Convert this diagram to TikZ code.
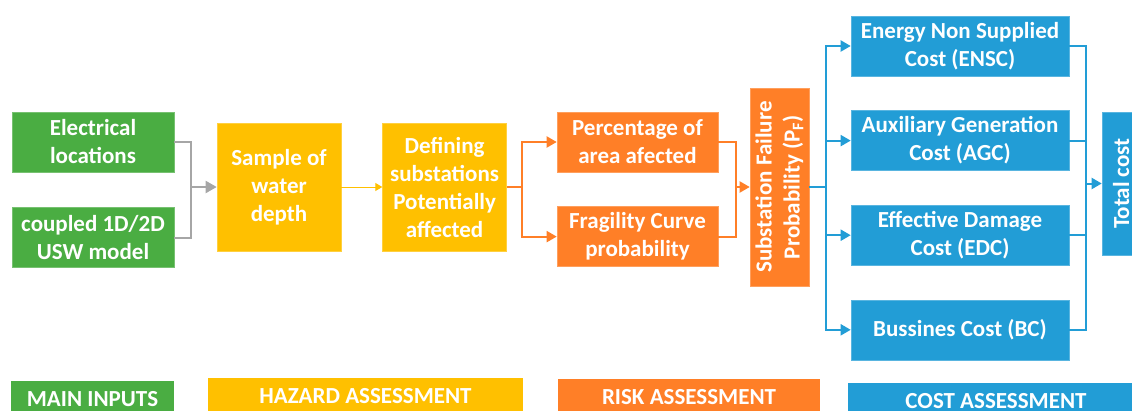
\documentclass[tikz,border=0pt]{standalone}
\usepackage{fontspec}
\setmainfont{Carlito}
\usepackage{tikz}
\usetikzlibrary{arrows.meta,shapes,positioning}

\definecolor{ingreen}{RGB}{74,173,66}
\definecolor{hzyellow}{RGB}{255,192,0}
\definecolor{rkorange}{RGB}{255,127,39}
\definecolor{csblue}{RGB}{34,157,214}
\definecolor{lngray}{RGB}{166,166,166}

\begin{document}
\begin{tikzpicture}[x=1pt, y=-1pt,
		basic/.style  = {rectangle, inner sep=0pt, align=center, text=white, line width=0.6pt, font=\fontsize{23}{28}\selectfont\bfseries},
		input/.style  = {basic, fill=ingreen, draw=ingreen!75!white, minimum width=162, minimum height=60},
		hazard/.style = {basic, fill=hzyellow, draw=hzyellow!75!white, minimum width=124, minimum height=128},
		risk/.style   = {basic, fill=rkorange, draw=rkorange!75!white, minimum width=161, minimum height=60},
		cost/.style   = {basic, fill=csblue, draw=csblue!75!white, minimum width=218, minimum height=60},
		legend/.style = {basic, anchor=north, minimum height=36},
		link/.style   = {line width=2pt},
		>={Triangle[length=10pt,width=11pt]}]
		
		\useasboundingbox (0,0) rectangle (1132,410);
		
		% main inputs
		\node[input] (in1) at (93,142) {Electrical\\locations};
		\node[input, below=35pt of in1] (in2) {coupled 1D/2D\\USW model};
		
		% hazard assessment
		\node[hazard] (hz1) at (279,187) {Sample of\\water\\depth};
		\node[hazard, right=41pt of hz1] (hz2) {Defining\\substations\\Potentially\\affected};
		
		% risk assessment
		\node[risk] (rk1) at (637.5,142) {Percentage of\\area afected};
		\node[risk, below=34pt of rk1] (rk2) {Fragility Curve\\probability};
		\node[risk, rotate=90, minimum width=198, minimum height=59] (pf) at (779.5,187) {Substation Failure\\Probability (P\textsubscript{F})};
		
		% cost assessment
		\node[cost] (cs1) at (960,46) {Energy Non Supplied\\Cost (ENSC)};
		\node[cost, below=34pt of cs1] (cs2) {Auxiliary Generation\\Cost (AGC)};
		\node[cost, below=34pt of cs2] (cs3) {Effective Damage\\Cost (EDC)};
		\node[cost, below=34pt of cs3] (cs4) {Bussines Cost (BC)};
		\node[cost, rotate=90, minimum width=143, minimum height=38] (tot) at (1121,183.5) {Total cost};
		
		% legend at the bottom
		\node[legend, fill=ingreen, minimum width=163] (lg1) at (92.5,381) {MAIN INPUTS};
		\node[legend, fill=hzyellow, minimum width=315] (lg2) at (365.5,378) {HAZARD ASSESSMENT};
		\node[legend, fill=rkorange, minimum width=262] (lg3) at (689,379) {RISK ASSESSMENT};
		\node[legend, fill=csblue, minimum width=296] (lg4) at (996,383) {COST ASSESSMENT};
		
		% junction points of the connectors
		\coordinate (gj) at (191,187);
		\coordinate (oj) at (522,187);
		\coordinate (om) at (736,187);
		\coordinate (bj) at (826,187);
		\coordinate (bm) at (1086,183.5);
		
		% inputs into the water depth sample
		\foreach \n in {1,2}
		\draw[link, lngray] (in\n.east) -| (gj);
		\draw[link, lngray, -{Triangle[length=11pt,width=12pt]}] (gj) -- (hz1.west);
		
		\draw[hzyellow, line width=1pt, -{Triangle[length=7pt,width=8pt]}] (hz1.east) -- (hz2.west);
		
		% split into the two risk boxes and merge again
		\draw[link, rkorange] (hz2.east) -- (oj);
		\foreach \n in {1,2}
		\draw[link, rkorange, ->] (oj) |- (rk\n.west);
		\foreach \n in {1,2}
		\draw[link, rkorange] (rk\n.east) -| (om);
		\draw[link, rkorange, ->] (om) -- (pf.north);
		
		% failure probability to every cost, costs to the total
		\draw[link, csblue] (pf.south) -- (bj);
		\foreach \n in {1,...,4}
		\draw[link, csblue, ->] (bj) |- (cs\n.west);
		\foreach \n in {1,...,4}
		\draw[link, csblue] (cs\n.east) -| (bm);
		\draw[link, csblue, ->] (bm) -- (tot.north);
		
	\end{tikzpicture}
\end{document}
